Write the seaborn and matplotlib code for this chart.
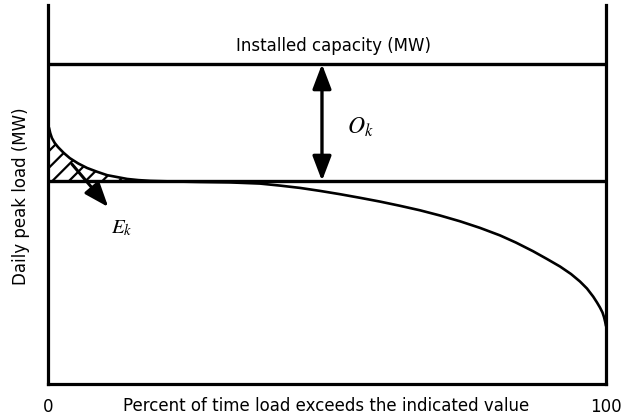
import numpy as np
import pandas as pd
import matplotlib
matplotlib.use("Agg")
import matplotlib.pyplot as plt
import seaborn as sns
from matplotlib.patches import FancyArrowPatch

# ---- data ----
pct_time = [0.0, 0.2, 0.4, 0.7, 1.2, 1.8, 2.8, 3.9, 5.4, 7.0, 8.8, 10.6, 12.4, 14.2,
            16.2, 18.3, 22.0, 27.24, 32.62, 38.0, 41.58, 45.16, 48.75, 52.33, 55.91,
            59.5, 63.08, 66.67, 70.25, 73.84, 77.42, 81.0, 83.87, 86.92, 89.43,
            91.76, 93.73, 95.34, 96.59, 97.72, 98.39, 98.92, 99.37, 99.64, 99.86, 100.0]
peak_load = [68.3, 67.5, 66.2, 64.9, 63.6, 62.5, 61.0, 59.6, 58.2, 57.0, 56.0, 55.1,
             54.6, 54.1, 53.8, 53.6, 53.45, 53.3, 53.19, 52.88, 52.35, 51.74, 50.95,
             50.08, 49.13, 48.13, 47.02, 45.83, 44.46, 42.93, 41.19, 39.21, 37.31,
             35.04, 32.98, 31.0, 29.02, 27.04, 25.2, 23.03, 21.5, 20.18, 18.87,
             17.68, 16.36, 15.3]
installed_capacity = 84.4
load_level = 53.6
excess_end = 18.3
x_tick_values = [0, 100]
x_tick_labels = ["0", "100"]

df = pd.DataFrame({"pct": pct_time, "load": peak_load})

sns.set_style("white")
plt.rcParams["font.family"] = ["DejaVu Sans"]
plt.rcParams["mathtext.fontset"] = "stix"
plt.rcParams["hatch.linewidth"] = 1.6
plt.rcParams["text.color"] = "black"
plt.rcParams["axes.labelcolor"] = "black"
plt.rcParams["xtick.color"] = "black"

fig = plt.figure(figsize=(6.23, 4.2), dpi=100)
ax = fig.add_axes([48 / 623, 36 / 420, 558 / 623, 379 / 420])

sns.lineplot(data=df, x="pct", y="load", ax=ax, color="black", lw=1.9,
             sort=False, estimator=None)

ax.axhline(installed_capacity, color="black", lw=2.4)
ax.axhline(load_level, color="black", lw=2.4)

# hatched excess region
xs = np.array(pct_time)
ys = np.array(peak_load)
mask = xs <= excess_end
ax.fill_between(xs[mask], ys[mask], load_level, facecolor="none",
                edgecolor="black", hatch="//", linewidth=0)

ax.set_xlim(0, 100)
ax.set_ylim(0, 100)

# double arrow O_k
arr = FancyArrowPatch((49.1, installed_capacity), (49.1, load_level),
                      arrowstyle="<|-|>,head_length=1.0,head_width=0.38",
                      mutation_scale=15, color="black", lw=2.4,
                      shrinkA=0, shrinkB=0)
ax.add_patch(arr)
ax.text(55.9, 67.8, r"$O_k$", fontsize=17, ha="center", va="center")

# E_k arrow
arr2 = FancyArrowPatch((4.3, 58.0), (10.8, 46.7),
                       arrowstyle="-|>,head_length=1.0,head_width=0.38",
                       mutation_scale=15, color="black", lw=2.2,
                       shrinkA=0, shrinkB=0)
ax.add_patch(arr2)
ax.text(13.3, 41.2, r"$E_k$", fontsize=15, ha="center", va="center")

ax.text(51.1, 89.2, "Installed capacity (MW)", fontsize=12, ha="center", va="center")

# spines
ax.spines["top"].set_visible(False)
for s in ["left", "right", "bottom"]:
    ax.spines[s].set_linewidth(2.3)
    ax.spines[s].set_color("black")

ax.set_yticks([])
ax.set_xticks(x_tick_values)
ax.set_xticklabels(x_tick_labels, fontsize=12)
ax.tick_params(axis="x", length=0, pad=10)

ax.set_xlabel("Percent of time load exceeds the indicated value", fontsize=12)
ax.xaxis.set_label_coords(0.498, -0.035)
ax.set_ylabel("Daily peak load (MW)", fontsize=12)
ax.yaxis.set_label_coords(-0.033, 0.496)

fig.savefig("out.png", dpi=100)
